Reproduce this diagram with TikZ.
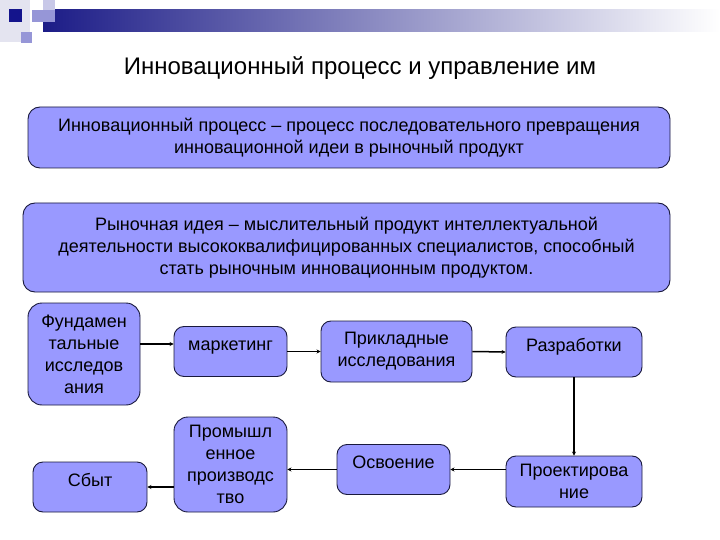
\documentclass[tikz,border=0pt]{standalone}
\usepackage{fontspec}
\setmainfont{Liberation Sans}
\usepackage{tikz}
\usetikzlibrary{arrows.meta}
\definecolor{boxfill}{RGB}{153,153,255}
\definecolor{boxline}{RGB}{25,25,60}
\definecolor{barnavy}{RGB}{28,28,135}
\definecolor{barmid}{RGB}{185,185,210}
\definecolor{decopale}{RGB}{228,228,240}
\definecolor{decolight}{RGB}{200,200,232}
\definecolor{decomid}{RGB}{150,150,215}
\definecolor{deconavy}{RGB}{20,20,140}
\begin{document}
\begin{tikzpicture}[x=1pt,y=-1pt,>={Stealth[length=4pt,width=4pt]},
  box/.style={rectangle,rounded corners=10pt,fill=boxfill,draw=boxline,line width=0.9pt,text=black,align=center,inner sep=0pt,font=\fontsize{18}{22}\selectfont},
  onetop/.style={text height=24pt,text depth=26pt},
  link/.style={->,draw=black,line width=1.5pt}]
\useasboundingbox (0,0) rectangle (720,540);
\fill[decopale] (0,0) rectangle (30,42);
\shade[left color=barnavy,middle color=barmid,right color=white] (43,10) rectangle (720,32);
\fill[decolight] (43,0) rectangle (55,12);
\fill[decomid] (32,10) rectangle (55,22);
\fill[deconavy] (9,9) rectangle (22,22);
\fill[decomid] (21,32) rectangle (32,43);
\node[font=\fontsize{24}{28}\selectfont] (title) at (360,68) {Инновационный процесс и управление им};
\node[box,rounded corners=12pt,minimum width=642pt,minimum height=61pt] (def) at (349,137.5) {Инновационный процесс – процесс последовательного превращения\\инновационной идеи в рыночный продукт};
\node[box,rounded corners=12pt,minimum width=647pt,minimum height=89pt] (idea) at (346.5,247.5) {Рыночная идея – мыслительный продукт интеллектуальной\\деятельности высококвалифицированных специалистов, способный\\стать рыночным инновационным продуктом.};
\node[box,rounded corners=14pt,minimum width=112pt,minimum height=102pt] (fund) at (84,354) {Фундамен\\тальные\\исследов\\ания};
\node[box,onetop,minimum width=113pt] (mark) at (230.5,351.5) {маркетинг};
\node[box,minimum width=151pt,minimum height=61pt] (appl) at (396.5,351.5) {Прикладные\\исследования};
\node[box,onetop,minimum width=136pt] (dev) at (574,352) {Разработки};
\node[box,minimum width=136pt,minimum height=51pt] (design) at (574,481.5) {Проектирова\\ние};
\node[box,onetop,minimum width=113pt] (mast) at (393.5,469.5) {Освоение};
\node[box,rounded corners=14pt,minimum width=113pt,minimum height=95pt] (prod) at (230.5,464.5) {Промышл\\енное\\производс\\тво};
\node[box,onetop,minimum width=114pt] (sale) at (90,487) {Сбыт};
\draw[link] ([yshift=10pt]fund.east) -- ([yshift=10pt]fund.east -| mark.west);
\draw[link] (mark.east) -- (appl.west);
\draw[link] (appl.east) -- (dev.west);
\draw[link] (dev.south) -- (design.north);
\draw[link] (design.west |- mast.east) -- (mast.east);
\draw[link] (mast.west) -- (mast.west -| prod.east);
\draw[link] (prod.west |- sale.east) -- (sale.east);
\end{tikzpicture}
\end{document}
